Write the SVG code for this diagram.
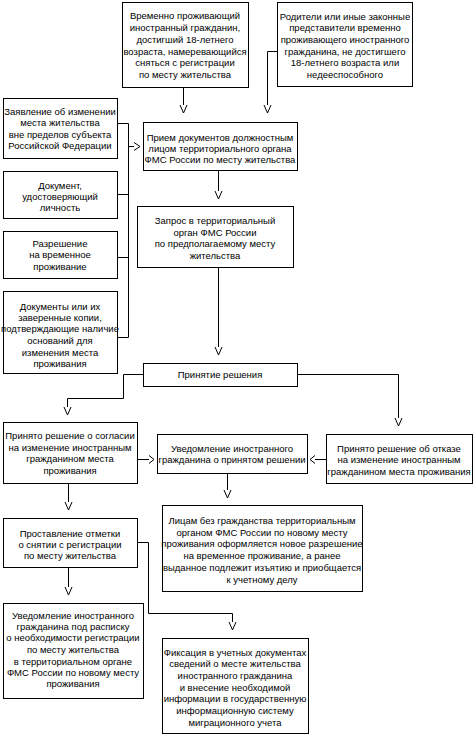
<svg xmlns="http://www.w3.org/2000/svg" width="475" height="738" viewBox="0 0 475 738">
<style>
rect{fill:#fff;stroke:#000;stroke-width:1}
text{font-family:"Liberation Sans","DejaVu Sans",sans-serif;font-size:9.5px;text-anchor:middle;fill:#000}
.c path,.c polyline{fill:none;stroke:#000;stroke-width:1}
</style>
<rect x="0" y="0" width="475" height="738" style="stroke:none"/>
<g id="n1"><rect x="122.5" y="2.5" width="126" height="85"/>
<text x="185" y="19">Временно проживающий</text><text x="185" y="31">иностранный гражданин,</text><text x="185" y="43">достигший 18-летнего</text><text x="185" y="55">возраста, намеревающийся</text><text x="185" y="66">сняться с регистрации</text><text x="185" y="78">по месту жительства</text></g>
<g id="n2"><rect x="277.5" y="2.5" width="135" height="84"/>
<text x="345" y="20">Родители или иные законные</text><text x="345" y="31">представители временно</text><text x="345" y="43">проживающего иностранного</text><text x="345" y="55">гражданина, не достигшего</text><text x="345" y="66">18-летнего возраста или</text><text x="345" y="78">недееспособного</text></g>
<g id="n3"><rect x="143.5" y="122.5" width="154" height="48"/>
<text x="220" y="141">Прием документов должностным</text><text x="220" y="152">лицом территориального органа</text><text x="220" y="163">ФМС России по месту жительства</text></g>
<g id="nA"><rect x="3.5" y="98.5" width="114" height="60"/>
<text x="60" y="115">Заявление об изменении</text><text x="60" y="126">места жительства</text><text x="60" y="138">вне пределов субъекта</text><text x="60" y="149">Российской Федерации</text></g>
<g id="nB"><rect x="3.5" y="171.5" width="114" height="47"/>
<text x="60" y="189">Документ,</text><text x="60" y="200">удостоверяющий</text><text x="60" y="211">личность</text></g>
<g id="nC"><rect x="3.5" y="231.5" width="114" height="47"/>
<text x="60" y="247">Разрешение</text><text x="60" y="258">на временное</text><text x="60" y="270">проживание</text></g>
<g id="nD"><rect x="3.5" y="291.5" width="114" height="82"/>
<text x="60" y="310">Документы или их</text><text x="60" y="321">заверенные копии,</text><text x="60" y="332">подтверждающие наличие</text><text x="60" y="344">оснований для</text><text x="60" y="356">изменения места</text><text x="60" y="367">проживания</text></g>
<g id="nE"><rect x="137.5" y="206.5" width="156" height="61"/>
<text x="215" y="224">Запрос в территориальный</text><text x="215" y="236">орган ФМС России</text><text x="215" y="247">по предполагаемому месту</text><text x="215" y="259">жительства</text></g>
<g id="nF"><rect x="143.5" y="363.5" width="154" height="23"/>
<text x="220" y="378">Принятие решения</text></g>
<g id="nG"><rect x="3.5" y="422.5" width="134" height="61"/>
<text x="70" y="439">Принято решение о согласии</text><text x="70" y="451">на изменение иностранным</text><text x="70" y="462">гражданином места</text><text x="70" y="474">проживания</text></g>
<g id="nH"><rect x="326.5" y="434.5" width="146" height="49"/>
<text x="399" y="452">Принято решение об отказе</text><text x="399" y="463">на изменение иностранным</text><text x="399" y="475">гражданином места проживания</text></g>
<g id="nI"><rect x="157.5" y="434.5" width="150" height="39"/>
<text x="232" y="452">Уведомление иностранного</text><text x="232" y="463">гражданина о принятом решении</text></g>
<g id="nJ"><rect x="162.5" y="505.5" width="200" height="86"/>
<text x="262" y="524">Лицам без гражданства территориальным</text><text x="262" y="536">органом ФМС России по новому месту</text><text x="262" y="547">проживания оформляется новое разрешение</text><text x="262" y="559">на временное проживание, а ранее</text><text x="262" y="571">выданное подлежит изъятию и приобщается</text><text x="262" y="583">к учетному делу</text></g>
<g id="nK"><rect x="3.5" y="518.5" width="134" height="49"/>
<text x="70" y="537">Проставление отметки</text><text x="70" y="548">о снятии с регистрации</text><text x="70" y="559">по месту жительства</text></g>
<g id="nL"><rect x="3.5" y="603.5" width="140" height="95"/>
<text x="73" y="619">Уведомление иностранного</text><text x="73" y="630">гражданина под расписку</text><text x="73" y="641">о необходимости регистрации</text><text x="73" y="653">по месту жительства</text><text x="73" y="665">в территориальном органе</text><text x="73" y="676">ФМС России по новому месту</text><text x="73" y="687">проживания</text></g>
<g id="nM"><rect x="162.5" y="638.5" width="146" height="95"/>
<text x="235" y="656">Фиксация в учетных документах</text><text x="235" y="667">сведений о месте жительства</text><text x="235" y="679">иностранного гражданина</text><text x="235" y="691">и внесение необходимой</text><text x="235" y="702">информации в государственную</text><text x="235" y="714">информационную систему</text><text x="235" y="726">миграционного учета</text></g>
<g id="connectors" class="c">
<path d="M183.5 87.5V105"/><polyline points="180,105 183.5,113 187,105"/>
<path d="M277.5 51.5H267.5V105"/><polyline points="264,105 267.5,113 271,105"/>
<path d="M117.5 123.5H128.5V337.5H117.5M117.5 194.5H128.5M117.5 257.5H128.5M128.5 146.5H134"/><polyline points="134,142.5 140,146.5 134,150.5"/>
<path d="M218.5 170.5V191"/><polyline points="215,191 218.5,199 222,191"/>
<path d="M218.5 267.5V347"/><polyline points="215,347 218.5,355 222,347"/>
<path d="M143.5 374.5H123.5V398.5H67.5V407"/><polyline points="64,407 67.5,415 71,407"/>
<path d="M297.5 374.5H398.5V418"/><polyline points="395,418 398.5,426 402,418"/>
<path d="M137.5 459.5H149"/><polyline points="149,455.5 154,459.5 149,463.5"/>
<path d="M326.5 459.5H315"/><polyline points="315,455.5 310,459.5 315,463.5"/>
<path d="M227.5 473.5V490"/><polyline points="224,490 227.5,498 231,490"/>
<path d="M68.5 483.5V502"/><polyline points="65,502 68.5,510 72,502"/>
<path d="M68.5 567.5V587"/><polyline points="65,587 68.5,595 72,587"/>
<path d="M137.5 542.5H148.5V613.5H232.5V622"/><polyline points="229,622 232.5,630 236,622"/>
</g>
</svg>
